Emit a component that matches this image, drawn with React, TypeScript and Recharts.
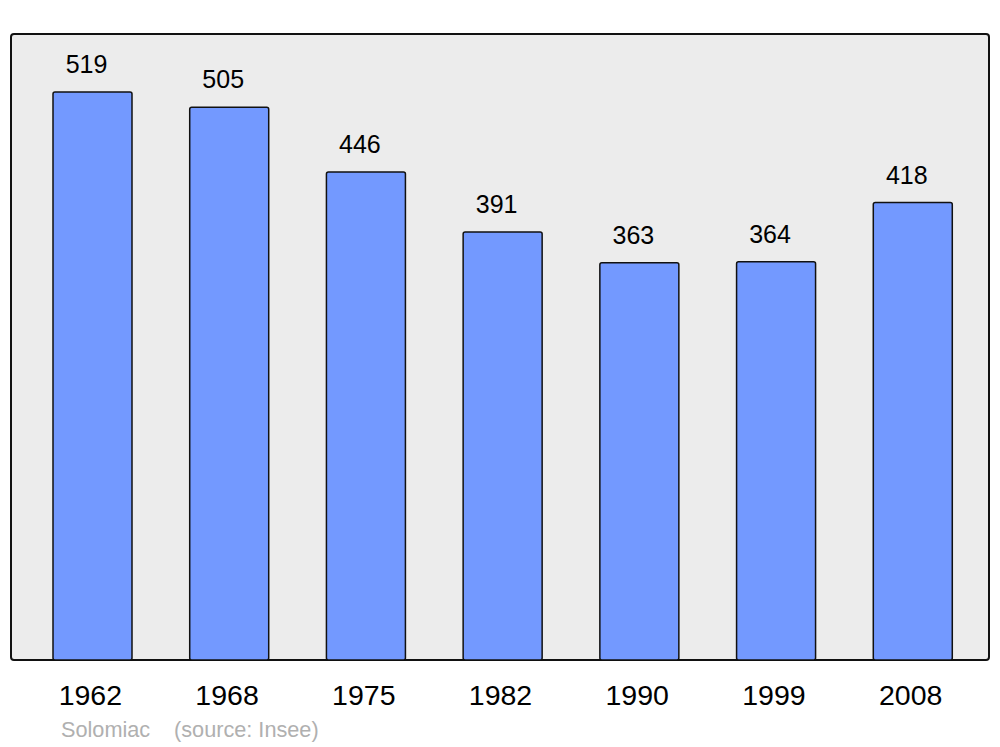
import { BarChart, Bar, XAxis, YAxis, LabelList } from "recharts";

const years = ["1962", "1968", "1975", "1982", "1990", "1999", "2008"];
const population = [519, 505, 446, 391, 363, 364, 418];

const chartData = years.map((year, i) => ({ year, population: population[i] }));

const font = '"Liberation Sans", Arial, sans-serif';

function YearTick(props: any) {
  const { x, payload } = props;
  return (
    <text x={x - 2} y={705} textAnchor="middle" fontSize={28.5} fontFamily={font} fill="#000">
      {payload.value}
    </text>
  );
}

function ValueLabel(props: any) {
  const { x, y, width, value } = props;
  return (
    <text x={x + width / 2 - 6} y={y - 19} textAnchor="middle" fontSize={25} fontFamily={font} fill="#000">
      {value}
    </text>
  );
}

export default function App() {
  return (
    <div style={{ position: "absolute", left: 0, top: 0, width: 1000, height: 747, background: "#fff" }}>
      <div
        style={{
          position: "absolute",
          left: 10,
          top: 33,
          width: 976,
          height: 624,
          border: "2px solid #111",
          borderRadius: 4,
          background: "#ececec",
        }}
      />
      <div style={{ position: "absolute", left: 0, top: 0 }}>
        <BarChart
          width={1000}
          height={747}
          data={chartData}
          margin={{ top: 34, right: 19, left: 24, bottom: 47 }}
        >
          <XAxis
            dataKey="year"
            axisLine={false}
            tickLine={false}
            tick={<YearTick />}
            height={40}
            interval={0}
          />
          <YAxis hide domain={[0, 572]} />
          <Bar
            dataKey="population"
            fill="#7399ff"
            stroke="#111"
            strokeWidth={1.5}
            barSize={79}
            radius={2}
            isAnimationActive={false}
          >
            <LabelList dataKey="population" content={<ValueLabel />} />
          </Bar>
        </BarChart>
      </div>
      <svg style={{ position: "absolute", left: 0, top: 0 }} width={1000} height={747} pointerEvents="none">
        <text x={61} y={737} fontSize={21.7} fontFamily={font} fill="#b0b0b0">
          Solomiac
        </text>
        <text x={174} y={737} fontSize={21.7} fontFamily={font} fill="#b0b0b0">
          (source: Insee)
        </text>
      </svg>
    </div>
  );
}
